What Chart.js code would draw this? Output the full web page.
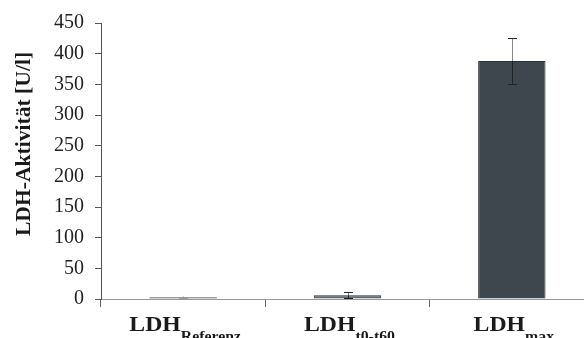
<!DOCTYPE html>
<html>
<head>
<meta charset="utf-8">
<script src="https://cdn.jsdelivr.net/npm/chart.js@4.4.0/dist/chart.umd.min.js"></script>
<style>
  html, body { margin: 0; padding: 0; background: #fff; overflow: hidden; }
  #wrap { position: absolute; left: 0; top: 0; width: 600px; height: 338px; }
</style>
</head>
<body>
<div id="wrap"><canvas id="chartLdh"></canvas></div>
<script>
// daten
const kategorien = ['Referenz', 't0-t60', 'max']
const werte = [3, 6, 388]
const fehler = [1, 5, 37]
const farben = ['#474d51', '#5d6a73', '#3d474d']
const yTicks = [0, 50, 100, 150, 200, 250, 300, 350, 400, 450]

const serif = '"Liberation Serif", "Times New Roman", serif'

// fehlerbalken
const errorBars = {
  id: 'errorBars',
  afterDatasetsDraw(chart) {
    const c = chart.ctx
    const meta = chart.getDatasetMeta(0)
    const y = chart.scales.y
    c.save()
    meta.data.forEach((bar, i) => {
      const x = Math.round(bar.x) + 0.5
      const top = y.getPixelForValue(werte[i] + fehler[i])
      const bot = y.getPixelForValue(werte[i] - fehler[i])
      const barTop = y.getPixelForValue(werte[i])
      const dunkel = fehler[i] > 2 ? '#222' : '#999'
      c.lineWidth = 1
      c.strokeStyle = '#888'
      c.beginPath(); c.moveTo(x, top); c.lineTo(x, barTop); c.stroke()
      c.strokeStyle = dunkel
      c.beginPath(); c.moveTo(x, barTop); c.lineTo(x, bot); c.stroke()
      c.beginPath(); c.moveTo(x - 4.5, Math.round(top) + 0.5); c.lineTo(x + 4.5, Math.round(top) + 0.5); c.stroke()
      c.beginPath(); c.moveTo(x - 4.5, Math.round(bot) + 0.5); c.lineTo(x + 4.5, Math.round(bot) + 0.5); c.stroke()
    })
    c.restore()
  }
}

// beschriftungen mit index
const labelsPlugin = {
  id: 'labelsPlugin',
  afterDraw(chart) {
    const c = chart.ctx
    const xs = chart.scales.x
    const sx = 1.13
    c.save()
    c.fillStyle = '#1a1a1a'
    c.textBaseline = 'alphabetic'
    kategorien.forEach((k, i) => {
      const cx = xs.getPixelForValue(i) + 2
      c.font = 'bold 21px ' + serif
      const w1 = c.measureText('LDH').width * sx
      c.font = 'bold 14px ' + serif
      const w2 = c.measureText(k).width * sx
      const start = cx - (w1 + w2) / 2
      c.save()
      c.translate(start, 0)
      c.scale(sx, 1)
      c.font = 'bold 21px ' + serif
      c.fillText('LDH', 0, 331)
      c.font = 'bold 14px ' + serif
      c.fillText(k, w1 / sx, 341)
      c.restore()
    })
    // y titel
    c.translate(30, 144)
    c.rotate(-Math.PI / 2)
    c.scale(1.08, 1)
    c.textAlign = 'center'
    c.font = 'bold 20px ' + serif
    c.fillText('LDH-Aktivität [U/l]', 0, 0)
    c.restore()
  }
}

const ctx = document.getElementById('chartLdh')

var chartLdh = new Chart(ctx, {
  type: 'bar',
  data: {
    labels: kategorien,
    datasets: [{
      data: werte,
      backgroundColor: farben,
      borderColor: '#2a3034',
      borderWidth: 1,
      barPercentage: 0.41,
      categoryPercentage: 1
    }]
  },
  options: {
    responsive: true,
    maintainAspectRatio: false,
    animation: false,
    layout: { padding: { top: 23, right: 6, left: 0, bottom: 0 } },
    plugins: { legend: { display: false }, tooltip: { enabled: false } },
    scales: {
      x: {
        offset: true,
        afterFit: (s) => { s.height = 39 },
        grid: { offset: true, drawOnChartArea: false, tickLength: 8, color: '#666' },
        border: { color: '#999', width: 1 },
        ticks: { callback: () => '' }
      },
      y: {
        min: 0,
        max: 450,
        afterFit: (s) => { s.width = 101 },
        afterBuildTicks: (s) => { s.ticks = yTicks.map(v => ({ value: v })) },
        grid: { drawOnChartArea: false, tickLength: 6, color: '#555' },
        border: { color: '#555', width: 1 },
        ticks: {
          padding: 11,
          color: '#222',
          font: { family: serif, size: 20 }
        }
      }
    }
  },
  plugins: [errorBars, labelsPlugin]
})
</script>
</body>
</html>
